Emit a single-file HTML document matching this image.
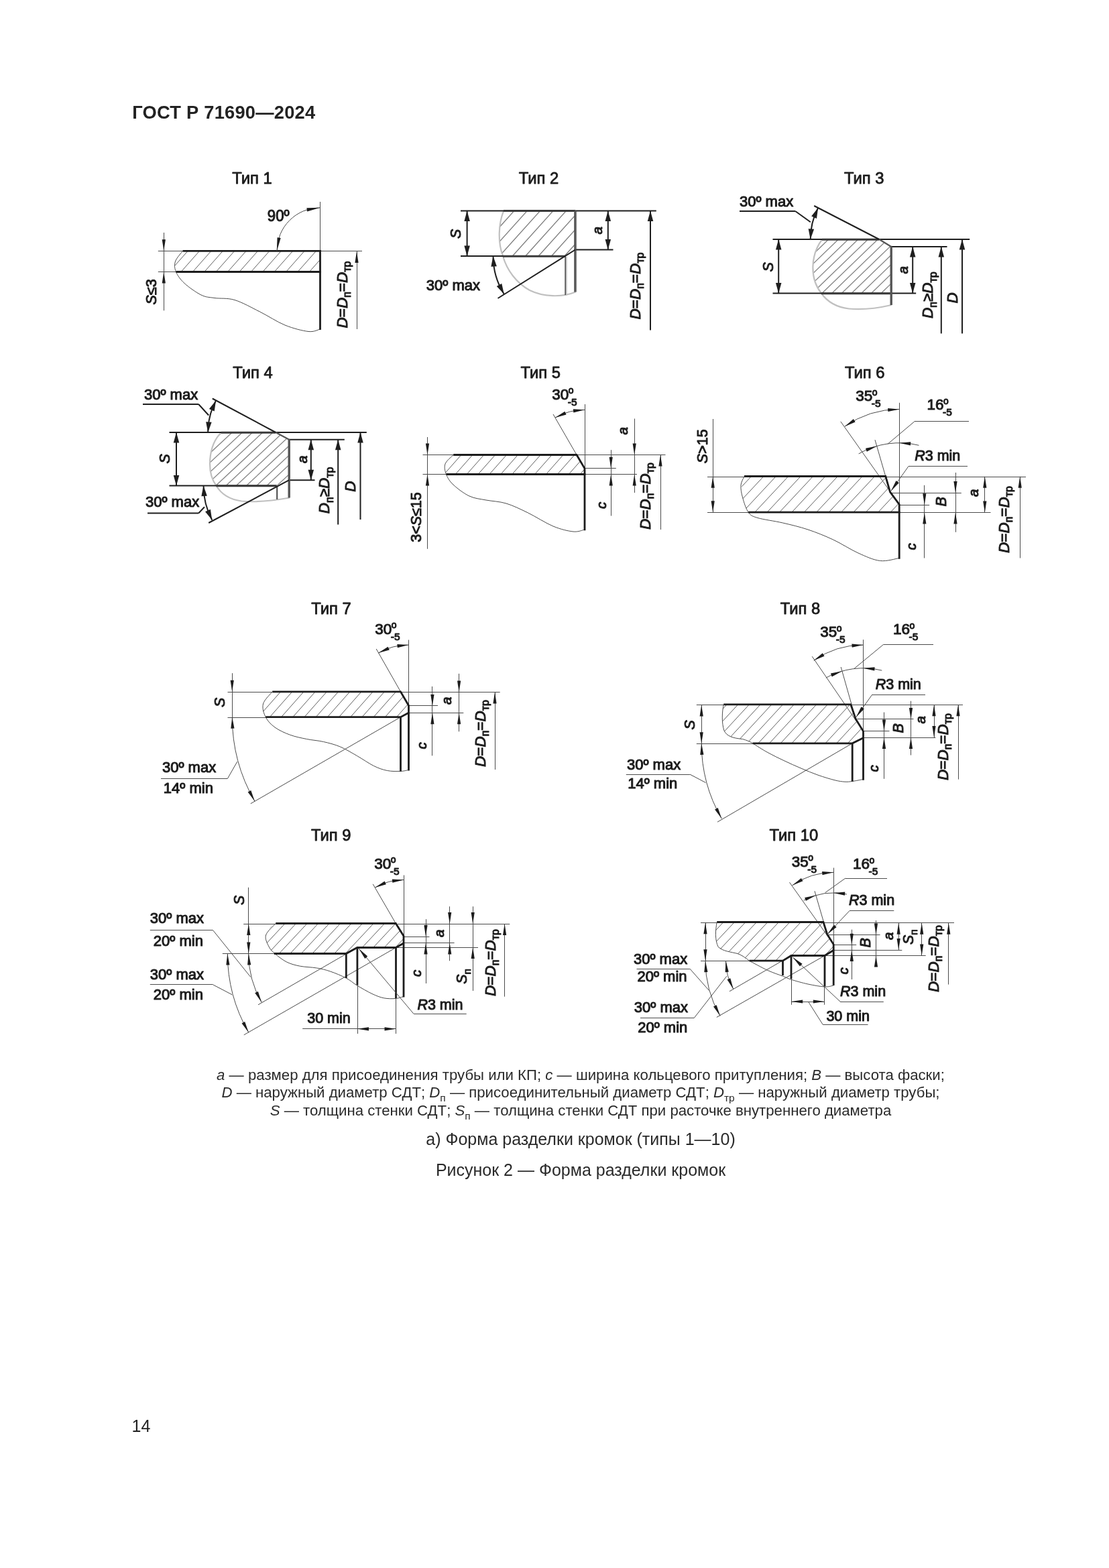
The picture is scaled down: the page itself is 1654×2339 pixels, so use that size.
<!DOCTYPE html>
<html lang="ru"><head><meta charset="utf-8"><title>ГОСТ Р 71690—2024</title>
<style>
html,body{margin:0;padding:0;background:#fff;}
body{width:1654px;height:2339px;overflow:hidden;position:relative;font-family:"Liberation Sans",sans-serif;}
svg{position:absolute;left:0;top:0;display:block;will-change:transform;transform:translateZ(0);}
svg text{font-family:"Liberation Sans",sans-serif;white-space:pre;}
</style></head>
<body>
<svg width="1654" height="2339" viewBox="0 0 1654 2339">
<text x="197.2" y="177" font-size="27.3" text-anchor="start" fill="#222" font-weight="bold" textLength="273" lengthAdjust="spacing" >ГОСТ Р 71690—2024</text>
<text x="196.6" y="2136" font-size="25" text-anchor="start" fill="#222" >14</text>
<text x="866" y="1610.6" font-size="22.2" text-anchor="middle" fill="#2a2a2a" ><tspan font-style="italic">a</tspan> — размер для присоединения трубы или КП; <tspan font-style="italic">c</tspan> — ширина кольцевого притупления; <tspan font-style="italic">B</tspan> — высота фаски;</text>
<text x="866" y="1636.6" font-size="22.2" text-anchor="middle" fill="#2a2a2a" ><tspan font-style="italic">D</tspan> — наружный диаметр СДТ; <tspan font-style="italic">D</tspan><tspan font-size="15.5" dy="6.5">п</tspan><tspan dy="-6.5">​</tspan> — присоединительный диаметр СДТ; <tspan font-style="italic">D</tspan><tspan font-size="15.5" dy="6.5">тр</tspan><tspan dy="-6.5">​</tspan> — наружный диаметр трубы;</text>
<text x="866" y="1663.5" font-size="22.2" text-anchor="middle" fill="#2a2a2a" ><tspan font-style="italic">S</tspan> — толщина стенки СДТ; <tspan font-style="italic">S</tspan><tspan font-size="15.5" dy="6.5">п</tspan><tspan dy="-6.5">​</tspan> — толщина стенки СДТ при расточке внутреннего диаметра</text>
<text x="866" y="1708" font-size="25" text-anchor="middle" fill="#2a2a2a" >а) Форма разделки кромок (типы 1—10)</text>
<text x="866" y="1754.2" font-size="25" text-anchor="middle" fill="#2a2a2a" >Рисунок 2 — Форма разделки кромок</text>
<text x="376" y="274.3" font-size="23.8" text-anchor="middle" fill="#1c1c1c" stroke="#1c1c1c" stroke-width="0.85" stroke-linejoin="round" >Тип 1</text>
<clipPath id="c1"><path d="M272.5 374.3 C262 380 259 392 262.5 405.5 L478 405.5 L478 374.3 Z"/></clipPath>
<path d="M217.8 405.5L245.4 374.3M235.2 405.5L262.8 374.3M252.6 405.5L280.2 374.3M270 405.5L297.6 374.3M287.4 405.5L315 374.3M304.8 405.5L332.4 374.3M322.2 405.5L349.8 374.3M339.6 405.5L367.2 374.3M357 405.5L384.6 374.3M374.4 405.5L402 374.3M391.8 405.5L419.4 374.3M409.2 405.5L436.8 374.3M426.6 405.5L454.2 374.3M444 405.5L471.6 374.3M461.4 405.5L489 374.3M478.8 405.5L506.4 374.3" fill="none" stroke="#4c4c4c" stroke-width="0.9" clip-path="url(#c1)"/>
<path d="M272.5 374.3 C270.67 376.92 263.17 384.8 261.5 390 C259.83 395.2 260.25 400.08 262.5 405.5 C264.75 410.92 268.75 416.75 275 422.5 C281.25 428.25 292.5 436.33 300 440 C307.5 443.67 311.67 443.25 320 444.5 C328.33 445.75 338.75 444.08 350 447.5 C361.25 450.92 375 458.75 387.5 465 C400 471.25 412.92 480.08 425 485 C437.08 489.92 451.25 493.5 460 494.5 C468.75 495.5 474.58 491.58 477.5 491" fill="none" stroke="#4c4c4c" stroke-width="1"/>
<line x1="477.5" y1="301" x2="477.5" y2="374" stroke="#4c4c4c" stroke-width="1" stroke-linecap="butt"/>
<line x1="235.8" y1="374.5" x2="272" y2="374.5" stroke="#4c4c4c" stroke-width="1" stroke-linecap="butt"/>
<line x1="235.8" y1="405.5" x2="263" y2="405.5" stroke="#4c4c4c" stroke-width="1" stroke-linecap="butt"/>
<line x1="478" y1="374.5" x2="540" y2="374.5" stroke="#4c4c4c" stroke-width="1" stroke-linecap="butt"/>
<line x1="272.5" y1="374.3" x2="478.8" y2="374.3" stroke="#1c1c1c" stroke-width="2.8" stroke-linecap="butt"/>
<line x1="262.5" y1="405.5" x2="478.8" y2="405.5" stroke="#1c1c1c" stroke-width="2.8" stroke-linecap="butt"/>
<line x1="477.5" y1="373" x2="477.5" y2="492" stroke="#1c1c1c" stroke-width="2.8" stroke-linecap="butt"/>
<line x1="244.5" y1="347" x2="244.5" y2="463.3" stroke="#4c4c4c" stroke-width="1" stroke-linecap="butt"/>
<polygon points="244.3,374.3 241.7,357.3 246.9,357.3" fill="#1c1c1c"/>
<polygon points="244.3,405.5 246.9,422.5 241.7,422.5" fill="#1c1c1c"/>
<line x1="532.5" y1="375" x2="532.5" y2="491" stroke="#4c4c4c" stroke-width="1" stroke-linecap="butt"/>
<polygon points="532,375 534.6,392 529.4,392" fill="#1c1c1c"/>
<path d="M413 374.3 A64.5 64.5 0 0 1 477.5 309.8" fill="none" stroke="#4c4c4c" stroke-width="1"/>
<polygon points="413,374.3 413.52,354.14 418.66,354.94" fill="#1c1c1c"/>
<polygon points="477.5,309.8 458.14,315.46 457.34,310.32" fill="#1c1c1c"/>
<text x="398.8" y="329.8" font-size="23.5" text-anchor="start" fill="#1c1c1c" stroke="#1c1c1c" stroke-width="1.05" stroke-linejoin="round" textLength="32.8" lengthAdjust="spacingAndGlyphs">90º</text>
<text x="232.5" y="454.5" font-size="21.5" text-anchor="start" fill="#1c1c1c" stroke="#1c1c1c" stroke-width="1.05" stroke-linejoin="round" transform="rotate(-90 232.5 454.5)" ><tspan font-style="italic">S</tspan>≤3</text>
<text x="517.7" y="489.5" font-size="22.5" text-anchor="start" fill="#1c1c1c" stroke="#1c1c1c" stroke-width="1.05" stroke-linejoin="round" transform="rotate(-90 517.7 489.5)" ><tspan font-style="italic">D</tspan>=<tspan font-style="italic">D</tspan><tspan font-size="15.97" dy="5.4">п</tspan><tspan dy="-5.4">​</tspan>=<tspan font-style="italic">D</tspan><tspan font-size="15.97" dy="5.4">тр</tspan><tspan dy="-5.4">​</tspan></text>
<text x="803.5" y="274.3" font-size="23.8" text-anchor="middle" fill="#1c1c1c" stroke="#1c1c1c" stroke-width="0.85" stroke-linejoin="round" >Тип 2</text>
<clipPath id="c2"><path d="M751.2 314.4 C743 335 742.5 362 750 382 L842.5 382 L858 372.5 L858 314.4 Z"/></clipPath>
<path d="M667.3 382L728.17 314.4M686.7 382L747.57 314.4M706.1 382L766.97 314.4M725.5 382L786.37 314.4M744.9 382L805.77 314.4M764.3 382L825.17 314.4M783.7 382L844.57 314.4M803.1 382L863.97 314.4M822.5 382L883.37 314.4M841.9 382L902.77 314.4M861.3 382L922.17 314.4" fill="none" stroke="#808080" stroke-width="1.4" clip-path="url(#c2)"/>
<path d="M751.2 314.4 C743 335 742.5 362 750 382 C756 403 770 422 790 433 C810 443 838 444 858.5 435.5" fill="none" stroke="#c0c0c0" stroke-width="2.2"/>
<line x1="859.6" y1="315" x2="859.6" y2="435.5" stroke="#c0c0c0" stroke-width="1.6" stroke-linecap="butt"/>
<line x1="845" y1="383" x2="845" y2="440" stroke="#c0c0c0" stroke-width="1.4" stroke-linecap="butt"/>
<line x1="687" y1="314.4" x2="978.8" y2="314.4" stroke="#1e1e1e" stroke-width="2" stroke-linecap="butt"/>
<line x1="687" y1="382" x2="843" y2="382" stroke="#1e1e1e" stroke-width="2" stroke-linecap="butt"/>
<line x1="858" y1="372.5" x2="914.5" y2="372.5" stroke="#1e1e1e" stroke-width="2" stroke-linecap="butt"/>
<line x1="751" y1="314.6" x2="858" y2="314.6" stroke="#3a3a3a" stroke-width="3" stroke-linecap="butt"/>
<line x1="750" y1="382.2" x2="843" y2="382.2" stroke="#3a3a3a" stroke-width="3" stroke-linecap="butt"/>
<line x1="857.8" y1="314.4" x2="857.8" y2="435.6" stroke="#555" stroke-width="3.2" stroke-linecap="butt"/>
<line x1="843.2" y1="382" x2="843.2" y2="440" stroke="#555" stroke-width="1.8" stroke-linecap="butt"/>
<line x1="858" y1="372.5" x2="742.5" y2="445" stroke="#1e1e1e" stroke-width="2" stroke-linecap="butt"/>
<line x1="696.6" y1="314.4" x2="696.6" y2="382" stroke="#1e1e1e" stroke-width="2" stroke-linecap="butt"/>
<polygon points="696.6,314.4 700.85,329.9 692.35,329.9" fill="#1e1e1e"/>
<polygon points="696.6,382 692.35,366.5 700.85,366.5" fill="#1e1e1e"/>
<line x1="906.8" y1="314.4" x2="906.8" y2="372.5" stroke="#1e1e1e" stroke-width="2" stroke-linecap="butt"/>
<polygon points="906.8,314.4 911.05,329.9 902.55,329.9" fill="#1e1e1e"/>
<polygon points="906.8,372.5 902.55,357 911.05,357" fill="#1e1e1e"/>
<line x1="970" y1="314.4" x2="970" y2="492.5" stroke="#1e1e1e" stroke-width="2" stroke-linecap="butt"/>
<polygon points="970,314.4 974.25,329.9 965.75,329.9" fill="#1e1e1e"/>
<path d="M735.5 382 A107 107 0 0 0 751.76 438.7" fill="none" stroke="#1e1e1e" stroke-width="2"/>
<polygon points="735.5,382 740.86,397.15 732.38,397.77" fill="#1e1e1e"/>
<polygon points="751.76,438.7 740.76,426.98 748.28,423.01" fill="#1e1e1e"/>
<text x="687" y="356" font-size="21.5" text-anchor="start" fill="#1c1c1c" stroke="#1c1c1c" stroke-width="1.05" stroke-linejoin="round" transform="rotate(-90 687 356)" ><tspan font-style="italic">S</tspan></text>
<text x="897.5" y="349.5" font-size="20.5" text-anchor="start" fill="#1c1c1c" stroke="#1c1c1c" stroke-width="1.05" stroke-linejoin="round" transform="rotate(-90 897.5 349.5)" ><tspan font-style="italic">a</tspan></text>
<text x="635.8" y="432.5" font-size="22" text-anchor="start" fill="#1c1c1c" stroke="#1c1c1c" stroke-width="1.05" stroke-linejoin="round" >30º max</text>
<text x="955" y="476.5" font-size="22.5" text-anchor="start" fill="#1c1c1c" stroke="#1c1c1c" stroke-width="1.05" stroke-linejoin="round" transform="rotate(-90 955 476.5)" ><tspan font-style="italic">D</tspan>=<tspan font-style="italic">D</tspan><tspan font-size="15.97" dy="5.4">п</tspan><tspan dy="-5.4">​</tspan>=<tspan font-style="italic">D</tspan><tspan font-size="15.97" dy="5.4">тр</tspan><tspan dy="-5.4">​</tspan></text>
<text x="1288.8" y="274.3" font-size="23.8" text-anchor="middle" fill="#1c1c1c" stroke="#1c1c1c" stroke-width="0.85" stroke-linejoin="round" >Тип 3</text>
<clipPath id="c3"><path d="M1226.2 357 C1209 380 1207 415 1225 437.5 L1329 437.5 L1329 368 L1311.2 357 Z"/></clipPath>
<path d="M1123 437.5L1206.36 357M1137.7 437.5L1221.06 357M1152.4 437.5L1235.76 357M1167.1 437.5L1250.46 357M1181.8 437.5L1265.16 357M1196.5 437.5L1279.86 357M1211.2 437.5L1294.56 357M1225.9 437.5L1309.26 357M1240.6 437.5L1323.96 357M1255.3 437.5L1338.66 357M1270 437.5L1353.36 357M1284.7 437.5L1368.06 357M1299.4 437.5L1382.76 357M1314.1 437.5L1397.46 357M1328.8 437.5L1412.16 357M1343.5 437.5L1426.86 357" fill="none" stroke="#858585" stroke-width="1.3" clip-path="url(#c3)"/>
<path d="M1226.2 357 C1209 380 1207 415 1225 437.5 C1233 449 1246 458 1266 460.5 C1290 463 1312 459 1329.5 455" fill="none" stroke="#c0c0c0" stroke-width="2.2"/>
<line x1="1152.5" y1="357" x2="1446.2" y2="357" stroke="#1e1e1e" stroke-width="2" stroke-linecap="butt"/>
<line x1="1152.5" y1="437.5" x2="1366.2" y2="437.5" stroke="#1e1e1e" stroke-width="2" stroke-linecap="butt"/>
<line x1="1329" y1="368" x2="1412.5" y2="368" stroke="#1e1e1e" stroke-width="2" stroke-linecap="butt"/>
<line x1="1226" y1="357.3" x2="1311.2" y2="357.3" stroke="#3a3a3a" stroke-width="3" stroke-linecap="butt"/>
<line x1="1225" y1="437.7" x2="1329" y2="437.7" stroke="#3a3a3a" stroke-width="3" stroke-linecap="butt"/>
<line x1="1329.2" y1="368" x2="1329.2" y2="455" stroke="#555" stroke-width="3.4" stroke-linecap="butt"/>
<path d="M1311.2 357 L1329.2 368" fill="none" stroke="#555" stroke-width="2.2"/>
<line x1="1311.2" y1="357" x2="1214.2" y2="307" stroke="#1e1e1e" stroke-width="2" stroke-linecap="butt"/>
<line x1="1103" y1="315" x2="1186.2" y2="315" stroke="#1e1e1e" stroke-width="2" stroke-linecap="butt"/>
<line x1="1186.2" y1="315" x2="1208.8" y2="331.2" stroke="#1e1e1e" stroke-width="2" stroke-linecap="butt"/>
<path d="M1208.7 357 A102.5 102.5 0 0 1 1220.12 309.99" fill="none" stroke="#1e1e1e" stroke-width="2"/>
<polygon points="1208.7,357 1205.63,341.22 1214.11,341.87" fill="#1e1e1e"/>
<polygon points="1220.12,309.99 1217.98,325.92 1210.16,322.6" fill="#1e1e1e"/>
<line x1="1161.2" y1="357" x2="1161.2" y2="437.5" stroke="#1e1e1e" stroke-width="2" stroke-linecap="butt"/>
<polygon points="1161.2,357 1165.45,372.5 1156.95,372.5" fill="#1e1e1e"/>
<polygon points="1161.2,437.5 1156.95,422 1165.45,422" fill="#1e1e1e"/>
<line x1="1361.2" y1="368" x2="1361.2" y2="437.5" stroke="#1e1e1e" stroke-width="2" stroke-linecap="butt"/>
<polygon points="1361.2,368 1365.45,383.5 1356.95,383.5" fill="#1e1e1e"/>
<polygon points="1361.2,437.5 1356.95,422 1365.45,422" fill="#1e1e1e"/>
<line x1="1403.8" y1="368" x2="1403.8" y2="497.5" stroke="#1e1e1e" stroke-width="2" stroke-linecap="butt"/>
<polygon points="1403.8,368 1408.05,383.5 1399.55,383.5" fill="#1e1e1e"/>
<line x1="1435" y1="357" x2="1435" y2="497.5" stroke="#1e1e1e" stroke-width="2" stroke-linecap="butt"/>
<polygon points="1435,357 1439.25,372.5 1430.75,372.5" fill="#1e1e1e"/>
<text x="1152.5" y="405.5" font-size="21.5" text-anchor="start" fill="#1c1c1c" stroke="#1c1c1c" stroke-width="1.05" stroke-linejoin="round" transform="rotate(-90 1152.5 405.5)" ><tspan font-style="italic">S</tspan></text>
<text x="1353.8" y="408.5" font-size="20.5" text-anchor="start" fill="#1c1c1c" stroke="#1c1c1c" stroke-width="1.05" stroke-linejoin="round" transform="rotate(-90 1353.8 408.5)" ><tspan font-style="italic">a</tspan></text>
<text x="1103" y="308" font-size="22" text-anchor="start" fill="#1c1c1c" stroke="#1c1c1c" stroke-width="1.05" stroke-linejoin="round" >30º max</text>
<text x="1391.2" y="475" font-size="22.5" text-anchor="start" fill="#1c1c1c" stroke="#1c1c1c" stroke-width="1.05" stroke-linejoin="round" transform="rotate(-90 1391.2 475)" ><tspan font-style="italic">D</tspan><tspan font-size="15.97" dy="5.4">п</tspan><tspan dy="-5.4">​</tspan>≥<tspan font-style="italic">D</tspan><tspan font-size="15.97" dy="5.4">тр</tspan><tspan dy="-5.4">​</tspan></text>
<text x="1428" y="452.5" font-size="22.5" text-anchor="start" fill="#1c1c1c" stroke="#1c1c1c" stroke-width="1.05" stroke-linejoin="round" transform="rotate(-90 1428 452.5)" ><tspan font-style="italic">D</tspan></text>
<text x="376.9" y="564.3" font-size="23.8" text-anchor="middle" fill="#1c1c1c" stroke="#1c1c1c" stroke-width="0.85" stroke-linejoin="round" >Тип 4</text>
<clipPath id="c4"><path d="M330 645 C310 665 308 705 322.5 724.5 L412.5 724.5 L431.2 716.2 L431.2 655.8 L411.2 645 Z"/></clipPath>
<path d="M215.4 724.5L300.65 645M230.6 724.5L315.85 645M245.8 724.5L331.05 645M261 724.5L346.25 645M276.2 724.5L361.45 645M291.4 724.5L376.65 645M306.6 724.5L391.85 645M321.8 724.5L407.05 645M337 724.5L422.25 645M352.2 724.5L437.45 645M367.4 724.5L452.65 645M382.6 724.5L467.85 645M397.8 724.5L483.05 645M413 724.5L498.25 645M428.2 724.5L513.45 645M443.4 724.5L528.65 645" fill="none" stroke="#858585" stroke-width="1.3" clip-path="url(#c4)"/>
<path d="M330 645 C310 665 308 705 322.5 724.5 C330 737 342 745 360 747.5 C385 750 412 746 432 742.5" fill="none" stroke="#c0c0c0" stroke-width="2.2"/>
<line x1="252.5" y1="645" x2="546.8" y2="645" stroke="#1e1e1e" stroke-width="2" stroke-linecap="butt"/>
<line x1="252.5" y1="724.5" x2="412.5" y2="724.5" stroke="#1e1e1e" stroke-width="2" stroke-linecap="butt"/>
<line x1="431.2" y1="655.8" x2="513.8" y2="655.8" stroke="#1e1e1e" stroke-width="2" stroke-linecap="butt"/>
<line x1="431.2" y1="716.2" x2="469.5" y2="716.2" stroke="#1e1e1e" stroke-width="2" stroke-linecap="butt"/>
<line x1="330" y1="645.3" x2="411.2" y2="645.3" stroke="#3a3a3a" stroke-width="3" stroke-linecap="butt"/>
<line x1="322.5" y1="724.7" x2="412.5" y2="724.7" stroke="#3a3a3a" stroke-width="3" stroke-linecap="butt"/>
<line x1="431.2" y1="655.8" x2="431.2" y2="742.5" stroke="#555" stroke-width="3.4" stroke-linecap="butt"/>
<line x1="413.2" y1="724.5" x2="413.2" y2="745" stroke="#555" stroke-width="2.2" stroke-linecap="butt"/>
<path d="M411.2 645 L431.2 655.8" fill="none" stroke="#555" stroke-width="2.2"/>
<line x1="411.2" y1="645" x2="316.8" y2="594.5" stroke="#1e1e1e" stroke-width="2" stroke-linecap="butt"/>
<line x1="431.2" y1="716.2" x2="311.2" y2="780" stroke="#1e1e1e" stroke-width="2" stroke-linecap="butt"/>
<line x1="213" y1="603" x2="296.2" y2="603" stroke="#1e1e1e" stroke-width="2" stroke-linecap="butt"/>
<line x1="296.2" y1="603" x2="311.2" y2="619.5" stroke="#1e1e1e" stroke-width="2" stroke-linecap="butt"/>
<line x1="220" y1="765.5" x2="296.2" y2="765.5" stroke="#1e1e1e" stroke-width="2" stroke-linecap="butt"/>
<line x1="296.2" y1="765.5" x2="305" y2="756.2" stroke="#1e1e1e" stroke-width="2" stroke-linecap="butt"/>
<path d="M310.2 645 A101 101 0 0 1 322.02 597.58" fill="none" stroke="#1e1e1e" stroke-width="2"/>
<polygon points="310.2,645 307.15,629.22 315.63,629.87" fill="#1e1e1e"/>
<polygon points="322.02,597.58 319.71,613.49 311.92,610.08" fill="#1e1e1e"/>
<path d="M303.5 724.5 A109 109 0 0 0 316.26 775.67" fill="none" stroke="#1e1e1e" stroke-width="2"/>
<polygon points="303.5,724.5 308.84,739.66 300.36,740.26" fill="#1e1e1e"/>
<polygon points="316.26,775.67 306.09,763.23 313.86,759.78" fill="#1e1e1e"/>
<line x1="263" y1="645" x2="263" y2="724.5" stroke="#1e1e1e" stroke-width="2" stroke-linecap="butt"/>
<polygon points="263,645 267.25,660.5 258.75,660.5" fill="#1e1e1e"/>
<polygon points="263,724.5 258.75,709 267.25,709" fill="#1e1e1e"/>
<line x1="463.8" y1="655.8" x2="463.8" y2="716.2" stroke="#1e1e1e" stroke-width="2" stroke-linecap="butt"/>
<polygon points="463.8,655.8 468.05,671.3 459.55,671.3" fill="#1e1e1e"/>
<polygon points="463.8,716.2 459.55,700.7 468.05,700.7" fill="#1e1e1e"/>
<line x1="504.2" y1="655.8" x2="504.2" y2="782.5" stroke="#1e1e1e" stroke-width="2" stroke-linecap="butt"/>
<polygon points="504.2,655.8 508.45,671.3 499.95,671.3" fill="#1e1e1e"/>
<line x1="537.5" y1="645" x2="537.5" y2="775" stroke="#1e1e1e" stroke-width="2" stroke-linecap="butt"/>
<polygon points="537.5,645 541.75,660.5 533.25,660.5" fill="#1e1e1e"/>
<text x="252.5" y="691.5" font-size="21.5" text-anchor="start" fill="#1c1c1c" stroke="#1c1c1c" stroke-width="1.05" stroke-linejoin="round" transform="rotate(-90 252.5 691.5)" ><tspan font-style="italic">S</tspan></text>
<text x="457.5" y="691" font-size="20.5" text-anchor="start" fill="#1c1c1c" stroke="#1c1c1c" stroke-width="1.05" stroke-linejoin="round" transform="rotate(-90 457.5 691)" ><tspan font-style="italic">a</tspan></text>
<text x="215" y="596.2" font-size="22" text-anchor="start" fill="#1c1c1c" stroke="#1c1c1c" stroke-width="1.05" stroke-linejoin="round" >30º max</text>
<text x="217" y="756.2" font-size="22" text-anchor="start" fill="#1c1c1c" stroke="#1c1c1c" stroke-width="1.05" stroke-linejoin="round" >30º max</text>
<text x="491.2" y="766.2" font-size="22.5" text-anchor="start" fill="#1c1c1c" stroke="#1c1c1c" stroke-width="1.05" stroke-linejoin="round" transform="rotate(-90 491.2 766.2)" ><tspan font-style="italic">D</tspan><tspan font-size="15.97" dy="5.4">п</tspan><tspan dy="-5.4">​</tspan>≥<tspan font-style="italic">D</tspan><tspan font-size="15.97" dy="5.4">тр</tspan><tspan dy="-5.4">​</tspan></text>
<text x="530.5" y="733.8" font-size="22.5" text-anchor="start" fill="#1c1c1c" stroke="#1c1c1c" stroke-width="1.05" stroke-linejoin="round" transform="rotate(-90 530.5 733.8)" ><tspan font-style="italic">D</tspan></text>
<text x="806.3" y="564.3" font-size="23.8" text-anchor="middle" fill="#1c1c1c" stroke="#1c1c1c" stroke-width="0.85" stroke-linejoin="round" >Тип 5</text>
<clipPath id="c5"><path d="M676.2 678.5 C662 685 660 698 665.5 707.5 L872 707.5 L872 698.8 L860 678.5 Z"/></clipPath>
<path d="M628.5 707.5L654.16 678.5M645.4 707.5L671.06 678.5M662.3 707.5L687.96 678.5M679.2 707.5L704.86 678.5M696.1 707.5L721.76 678.5M713 707.5L738.66 678.5M729.9 707.5L755.56 678.5M746.8 707.5L772.46 678.5M763.7 707.5L789.36 678.5M780.6 707.5L806.26 678.5M797.5 707.5L823.16 678.5M814.4 707.5L840.06 678.5M831.3 707.5L856.96 678.5M848.2 707.5L873.86 678.5M865.1 707.5L890.76 678.5M882 707.5L907.66 678.5" fill="none" stroke="#4c4c4c" stroke-width="0.9" clip-path="url(#c5)"/>
<path d="M676.2 678.5 C674.17 680.75 665.78 687.17 664 692 C662.22 696.83 663.5 702.33 665.5 707.5 C667.5 712.67 670.25 717.58 676 723 C681.75 728.42 691.83 736.17 700 740 C708.17 743.83 715.83 744.17 725 746 C734.17 747.83 744.58 747.83 755 751 C765.42 754.17 775.83 759.33 787.5 765 C799.17 770.67 813.75 780.33 825 785 C836.25 789.67 847.17 792.17 855 793 C862.83 793.83 869.17 790.5 872 790" fill="none" stroke="#4c4c4c" stroke-width="1"/>
<line x1="872.5" y1="603" x2="872.5" y2="699" stroke="#4c4c4c" stroke-width="1" stroke-linecap="butt"/>
<line x1="860" y1="678.5" x2="825" y2="617.9" stroke="#4c4c4c" stroke-width="1" stroke-linecap="butt"/>
<line x1="630.5" y1="678.5" x2="676" y2="678.5" stroke="#4c4c4c" stroke-width="1" stroke-linecap="butt"/>
<line x1="630.5" y1="707.5" x2="665.5" y2="707.5" stroke="#4c4c4c" stroke-width="1" stroke-linecap="butt"/>
<line x1="860" y1="678.5" x2="992.5" y2="678.5" stroke="#4c4c4c" stroke-width="1" stroke-linecap="butt"/>
<line x1="872" y1="698.5" x2="918.8" y2="698.5" stroke="#4c4c4c" stroke-width="1" stroke-linecap="butt"/>
<line x1="872" y1="707.5" x2="950" y2="707.5" stroke="#4c4c4c" stroke-width="1" stroke-linecap="butt"/>
<path d="M676.2 678.5 L860 678.5 L872 698.8 L872 791.2" fill="none" stroke="#1c1c1c" stroke-width="2.8" stroke-linejoin="miter"/>
<line x1="665.5" y1="707.5" x2="873.3" y2="707.5" stroke="#1c1c1c" stroke-width="2.8" stroke-linecap="butt"/>
<line x1="637.5" y1="652" x2="637.5" y2="818.8" stroke="#4c4c4c" stroke-width="1" stroke-linecap="butt"/>
<polygon points="637.5,678.5 634.9,661.5 640.1,661.5" fill="#1c1c1c"/>
<polygon points="637.5,707.5 640.1,724.5 634.9,724.5" fill="#1c1c1c"/>
<line x1="911.5" y1="671.2" x2="911.5" y2="769.5" stroke="#4c4c4c" stroke-width="1" stroke-linecap="butt"/>
<polygon points="911.2,698.8 908.6,681.8 913.8,681.8" fill="#1c1c1c"/>
<polygon points="911.2,707.5 913.8,724.5 908.6,724.5" fill="#1c1c1c"/>
<line x1="946.5" y1="624.5" x2="946.5" y2="735" stroke="#4c4c4c" stroke-width="1" stroke-linecap="butt"/>
<polygon points="946.2,678.5 943.6,661.5 948.8,661.5" fill="#1c1c1c"/>
<polygon points="946.2,707.5 948.8,724.5 943.6,724.5" fill="#1c1c1c"/>
<line x1="985.5" y1="678.5" x2="985.5" y2="790" stroke="#4c4c4c" stroke-width="1" stroke-linecap="butt"/>
<polygon points="985,678.5 987.6,695.5 982.4,695.5" fill="#1c1c1c"/>
<path d="M872 611.3 A88 88 0 0 0 828 623.09" fill="none" stroke="#4c4c4c" stroke-width="1"/>
<polygon points="872,611.3 855.33,615.53 854.83,610.35" fill="#1c1c1c"/>
<polygon points="828,623.09 842.4,613.68 844.55,618.42" fill="#1c1c1c"/>
<text x="823.2" y="595.5" font-size="22.5" text-anchor="start" fill="#1c1c1c" stroke="#1c1c1c" stroke-width="1.05" stroke-linejoin="round" >30</text>
<text x="847.72" y="587.4" font-size="13.95" text-anchor="start" fill="#1c1c1c" stroke="#1c1c1c" stroke-width="1.05" stroke-linejoin="round" >o</text>
<text x="846.72" y="604.5" font-size="15.5" text-anchor="start" fill="#1c1c1c" stroke="#1c1c1c" stroke-width="1.05" stroke-linejoin="round" >-5</text>
<text x="628.2" y="808.8" font-size="21.5" text-anchor="start" fill="#1c1c1c" stroke="#1c1c1c" stroke-width="1.05" stroke-linejoin="round" transform="rotate(-90 628.2 808.8)" >3&lt;<tspan font-style="italic">S</tspan>≤15</text>
<text x="935.5" y="648.5" font-size="20.5" text-anchor="start" fill="#1c1c1c" stroke="#1c1c1c" stroke-width="1.05" stroke-linejoin="round" transform="rotate(-90 935.5 648.5)" ><tspan font-style="italic">a</tspan></text>
<text x="904.2" y="759" font-size="20.5" text-anchor="start" fill="#1c1c1c" stroke="#1c1c1c" stroke-width="1.05" stroke-linejoin="round" transform="rotate(-90 904.2 759)" ><tspan font-style="italic">c</tspan></text>
<text x="970" y="790" font-size="22.5" text-anchor="start" fill="#1c1c1c" stroke="#1c1c1c" stroke-width="1.05" stroke-linejoin="round" transform="rotate(-90 970 790)" ><tspan font-style="italic">D</tspan>=<tspan font-style="italic">D</tspan><tspan font-size="15.97" dy="5.4">п</tspan><tspan dy="-5.4">​</tspan>=<tspan font-style="italic">D</tspan><tspan font-size="15.97" dy="5.4">тр</tspan><tspan dy="-5.4">​</tspan></text>
<text x="1289.8" y="564.3" font-size="23.8" text-anchor="middle" fill="#1c1c1c" stroke="#1c1c1c" stroke-width="0.85" stroke-linejoin="round" >Тип 6</text>
<clipPath id="c6"><path d="M1110 710.5 C1103 725 1106 748 1116.2 764.2 L1341.2 764.2 L1341.2 752.5 L1327.5 733.8 L1320.8 710.5 Z"/></clipPath>
<path d="M1052.1 764.2L1102.18 710.5M1070.5 764.2L1120.58 710.5M1088.9 764.2L1138.98 710.5M1107.3 764.2L1157.38 710.5M1125.7 764.2L1175.78 710.5M1144.1 764.2L1194.18 710.5M1162.5 764.2L1212.58 710.5M1180.9 764.2L1230.98 710.5M1199.3 764.2L1249.38 710.5M1217.7 764.2L1267.78 710.5M1236.1 764.2L1286.18 710.5M1254.5 764.2L1304.58 710.5M1272.9 764.2L1322.98 710.5M1291.3 764.2L1341.38 710.5M1309.7 764.2L1359.78 710.5M1328.1 764.2L1378.18 710.5M1346.5 764.2L1396.58 710.5" fill="none" stroke="#4c4c4c" stroke-width="0.9" clip-path="url(#c6)"/>
<path d="M1110 710.5 C1109.17 712.75 1105.42 718.75 1105 724 C1104.58 729.25 1105.63 735.3 1107.5 742 C1109.37 748.7 1112.45 759.12 1116.2 764.2 C1119.95 769.28 1121.45 769.87 1130 772.5 C1138.55 775.13 1155 777.08 1167.5 780 C1180 782.92 1192.5 785.83 1205 790 C1217.5 794.17 1230 799.17 1242.5 805 C1255 810.83 1268.33 819.75 1280 825 C1291.67 830.25 1302.3 835.25 1312.5 836.5 C1322.7 837.75 1336.42 833.17 1341.2 832.5" fill="none" stroke="#4c4c4c" stroke-width="1"/>
<line x1="1341.5" y1="600.8" x2="1341.5" y2="753" stroke="#4c4c4c" stroke-width="1" stroke-linecap="butt"/>
<line x1="1341.2" y1="752.5" x2="1253.8" y2="628.8" stroke="#4c4c4c" stroke-width="1" stroke-linecap="butt"/>
<line x1="1327.5" y1="733.8" x2="1305" y2="656.2" stroke="#4c4c4c" stroke-width="1" stroke-linecap="butt"/>
<line x1="1055" y1="711.5" x2="1110" y2="711.5" stroke="#4c4c4c" stroke-width="1" stroke-linecap="butt"/>
<line x1="1055" y1="764.5" x2="1116" y2="764.5" stroke="#4c4c4c" stroke-width="1" stroke-linecap="butt"/>
<line x1="1321" y1="711.5" x2="1530" y2="711.5" stroke="#4c4c4c" stroke-width="1" stroke-linecap="butt"/>
<line x1="1327.5" y1="735.5" x2="1433.8" y2="735.5" stroke="#4c4c4c" stroke-width="1" stroke-linecap="butt"/>
<line x1="1341.2" y1="753.5" x2="1386.2" y2="753.5" stroke="#4c4c4c" stroke-width="1" stroke-linecap="butt"/>
<line x1="1341.2" y1="764.5" x2="1477.5" y2="764.5" stroke="#4c4c4c" stroke-width="1" stroke-linecap="butt"/>
<path d="M1110 710.5 L1320.8 710.5 L1327.5 733.8 L1341.2 752.5 L1341.2 833.8" fill="none" stroke="#1c1c1c" stroke-width="2.8" stroke-linejoin="miter"/>
<line x1="1116.2" y1="764.2" x2="1342.5" y2="764.2" stroke="#1c1c1c" stroke-width="2.8" stroke-linecap="butt"/>
<line x1="1063.5" y1="625" x2="1063.5" y2="764.2" stroke="#4c4c4c" stroke-width="1" stroke-linecap="butt"/>
<polygon points="1063.2,710.8 1065.8,727.8 1060.6,727.8" fill="#1c1c1c"/>
<polygon points="1063.2,764.2 1060.6,747.2 1065.8,747.2" fill="#1c1c1c"/>
<line x1="1378.5" y1="723.8" x2="1378.5" y2="832.5" stroke="#4c4c4c" stroke-width="1" stroke-linecap="butt"/>
<polygon points="1378.8,753.2 1376.2,736.2 1381.4,736.2" fill="#1c1c1c"/>
<polygon points="1378.8,764.5 1381.4,781.5 1376.2,781.5" fill="#1c1c1c"/>
<line x1="1425.5" y1="705" x2="1425.5" y2="793.8" stroke="#4c4c4c" stroke-width="1" stroke-linecap="butt"/>
<polygon points="1425,735 1422.4,718 1427.6,718" fill="#1c1c1c"/>
<polygon points="1425,764.5 1427.6,781.5 1422.4,781.5" fill="#1c1c1c"/>
<line x1="1468.5" y1="710.8" x2="1468.5" y2="764.5" stroke="#4c4c4c" stroke-width="1" stroke-linecap="butt"/>
<polygon points="1468.8,710.8 1471.4,727.8 1466.2,727.8" fill="#1c1c1c"/>
<polygon points="1468.8,764.5 1466.2,747.5 1471.4,747.5" fill="#1c1c1c"/>
<line x1="1521.5" y1="710.8" x2="1521.5" y2="832.5" stroke="#4c4c4c" stroke-width="1" stroke-linecap="butt"/>
<polygon points="1521.2,710.8 1523.8,727.8 1518.6,727.8" fill="#1c1c1c"/>
<path d="M1341.2 610.5 A142 142 0 0 0 1259.75 636.18" fill="none" stroke="#4c4c4c" stroke-width="1"/>
<polygon points="1341.2,610.5 1324.39,614.11 1324.07,608.92" fill="#1c1c1c"/>
<polygon points="1259.75,636.18 1272.87,625.06 1275.6,629.5" fill="#1c1c1c"/>
<path d="M1280.7 676.91 A121 121 0 0 1 1370.47 664.29" fill="none" stroke="#4c4c4c" stroke-width="1"/>
<polygon points="1307.85,665.39 1292.76,673.64 1290.98,668.76" fill="#1c1c1c"/>
<polygon points="1341.2,660.7 1358.34,659.29 1357.98,664.48" fill="#1c1c1c"/>
<line x1="1363.8" y1="628.5" x2="1445" y2="628.5" stroke="#4c4c4c" stroke-width="1" stroke-linecap="butt"/>
<line x1="1363.8" y1="628.8" x2="1323.8" y2="662.5" stroke="#4c4c4c" stroke-width="1" stroke-linecap="butt"/>
<line x1="1355" y1="695.5" x2="1443" y2="695.5" stroke="#4c4c4c" stroke-width="1" stroke-linecap="butt"/>
<line x1="1355" y1="695.5" x2="1328.8" y2="732.5" stroke="#4c4c4c" stroke-width="1" stroke-linecap="butt"/>
<polygon points="1328.8,732.5 1336.5,717.12 1340.75,720.13" fill="#1c1c1c"/>
<text x="1276.2" y="598" font-size="22.5" text-anchor="start" fill="#1c1c1c" stroke="#1c1c1c" stroke-width="1.05" stroke-linejoin="round" >35</text>
<text x="1300.72" y="589.9" font-size="13.95" text-anchor="start" fill="#1c1c1c" stroke="#1c1c1c" stroke-width="1.05" stroke-linejoin="round" >o</text>
<text x="1299.72" y="607" font-size="15.5" text-anchor="start" fill="#1c1c1c" stroke="#1c1c1c" stroke-width="1.05" stroke-linejoin="round" >-5</text>
<text x="1382.5" y="610.8" font-size="22.5" text-anchor="start" fill="#1c1c1c" stroke="#1c1c1c" stroke-width="1.05" stroke-linejoin="round" >16</text>
<text x="1407.02" y="602.7" font-size="13.95" text-anchor="start" fill="#1c1c1c" stroke="#1c1c1c" stroke-width="1.05" stroke-linejoin="round" >o</text>
<text x="1406.02" y="619.8" font-size="15.5" text-anchor="start" fill="#1c1c1c" stroke="#1c1c1c" stroke-width="1.05" stroke-linejoin="round" >-5</text>
<text x="1364.2" y="687" font-size="21.5" text-anchor="start" fill="#1c1c1c" stroke="#1c1c1c" stroke-width="1.05" stroke-linejoin="round" ><tspan font-style="italic">R</tspan>3 min</text>
<text x="1055.5" y="691.2" font-size="21.5" text-anchor="start" fill="#1c1c1c" stroke="#1c1c1c" stroke-width="1.05" stroke-linejoin="round" transform="rotate(-90 1055.5 691.2)" ><tspan font-style="italic">S</tspan>&gt;15</text>
<text x="1411.2" y="755.5" font-size="21.5" text-anchor="start" fill="#1c1c1c" stroke="#1c1c1c" stroke-width="1.05" stroke-linejoin="round" transform="rotate(-90 1411.2 755.5)" ><tspan font-style="italic">B</tspan></text>
<text x="1458.8" y="741" font-size="20.5" text-anchor="start" fill="#1c1c1c" stroke="#1c1c1c" stroke-width="1.05" stroke-linejoin="round" transform="rotate(-90 1458.8 741)" ><tspan font-style="italic">a</tspan></text>
<text x="1366.2" y="820.5" font-size="20.5" text-anchor="start" fill="#1c1c1c" stroke="#1c1c1c" stroke-width="1.05" stroke-linejoin="round" transform="rotate(-90 1366.2 820.5)" ><tspan font-style="italic">c</tspan></text>
<text x="1505" y="825" font-size="22.5" text-anchor="start" fill="#1c1c1c" stroke="#1c1c1c" stroke-width="1.05" stroke-linejoin="round" transform="rotate(-90 1505 825)" ><tspan font-style="italic">D</tspan>=<tspan font-style="italic">D</tspan><tspan font-size="15.97" dy="5.4">п</tspan><tspan dy="-5.4">​</tspan>=<tspan font-style="italic">D</tspan><tspan font-size="15.97" dy="5.4">тр</tspan><tspan dy="-5.4">​</tspan></text>
<text x="494" y="915.5" font-size="23.8" text-anchor="middle" fill="#1c1c1c" stroke="#1c1c1c" stroke-width="0.85" stroke-linejoin="round" >Тип 7</text>
<clipPath id="c7"><path d="M406.2 1031.8 C391 1040 388 1058 396.2 1069.7 L597.5 1069.7 L609.5 1063.5 L609.5 1052.5 L597.5 1031.8 Z"/></clipPath>
<path d="M350.7 1069.7L384.23 1031.8M367.9 1069.7L401.43 1031.8M385.1 1069.7L418.63 1031.8M402.3 1069.7L435.83 1031.8M419.5 1069.7L453.03 1031.8M436.7 1069.7L470.23 1031.8M453.9 1069.7L487.43 1031.8M471.1 1069.7L504.63 1031.8M488.3 1069.7L521.83 1031.8M505.5 1069.7L539.03 1031.8M522.7 1069.7L556.23 1031.8M539.9 1069.7L573.43 1031.8M557.1 1069.7L590.63 1031.8M574.3 1069.7L607.83 1031.8M591.5 1069.7L625.03 1031.8M608.7 1069.7L642.23 1031.8M625.9 1069.7L659.43 1031.8" fill="none" stroke="#4c4c4c" stroke-width="0.9" clip-path="url(#c7)"/>
<path d="M406.2 1031.8 C403.92 1034.83 394.17 1043.68 392.5 1050 C390.83 1056.32 393.28 1063.87 396.2 1069.7 C399.12 1075.53 403.95 1080.58 410 1085 C416.05 1089.42 424.58 1093.28 432.5 1096.2 C440.42 1099.12 449.17 1100.78 457.5 1102.5 C465.83 1104.22 474.17 1104.58 482.5 1106.5 C490.83 1108.42 499.17 1110.5 507.5 1114 C515.83 1117.5 524.17 1122.75 532.5 1127.5 C540.83 1132.25 550 1138.83 557.5 1142.5 C565 1146.17 570.83 1148.17 577.5 1149.5 C584.17 1150.83 592.17 1150.67 597.5 1150.5 C602.83 1150.33 607.5 1148.83 609.5 1148.5" fill="none" stroke="#4c4c4c" stroke-width="1"/>
<line x1="609.5" y1="954.5" x2="609.5" y2="1053" stroke="#4c4c4c" stroke-width="1" stroke-linecap="butt"/>
<line x1="597.5" y1="1031.8" x2="561.2" y2="968" stroke="#4c4c4c" stroke-width="1" stroke-linecap="butt"/>
<line x1="339.5" y1="1032.5" x2="406" y2="1032.5" stroke="#4c4c4c" stroke-width="1" stroke-linecap="butt"/>
<line x1="339.5" y1="1070.5" x2="396" y2="1070.5" stroke="#4c4c4c" stroke-width="1" stroke-linecap="butt"/>
<line x1="599" y1="1032.5" x2="745.7" y2="1032.5" stroke="#4c4c4c" stroke-width="1" stroke-linecap="butt"/>
<line x1="609.5" y1="1052.5" x2="653" y2="1052.5" stroke="#4c4c4c" stroke-width="1" stroke-linecap="butt"/>
<line x1="609.5" y1="1063.5" x2="691.3" y2="1063.5" stroke="#4c4c4c" stroke-width="1" stroke-linecap="butt"/>
<line x1="597.5" y1="1069.7" x2="373.8" y2="1198.8" stroke="#4c4c4c" stroke-width="1" stroke-linecap="butt"/>
<path d="M406.2 1031.8 L597.5 1031.8 L609.5 1052.5 L609.5 1149.5" fill="none" stroke="#1c1c1c" stroke-width="2.8" stroke-linejoin="miter"/>
<path d="M396.2 1069.7 L597.5 1069.7 L609.5 1063.3" fill="none" stroke="#1c1c1c" stroke-width="2.8" stroke-linejoin="miter"/>
<line x1="597.5" y1="1069.7" x2="597.5" y2="1150.8" stroke="#1c1c1c" stroke-width="2.8" stroke-linecap="butt"/>
<line x1="346.5" y1="1004.2" x2="346.5" y2="1070" stroke="#4c4c4c" stroke-width="1" stroke-linecap="butt"/>
<polygon points="346.2,1031.8 343.6,1014.8 348.8,1014.8" fill="#1c1c1c"/>
<path d="M346.3 1069.7 A251.2 251.2 0 0 0 379.95 1195.3" fill="none" stroke="#4c4c4c" stroke-width="1"/>
<polygon points="346.3,1069.7 349.47,1086.6 344.28,1086.78" fill="#1c1c1c"/>
<polygon points="379.95,1195.3 369.66,1181.52 374.25,1179.08" fill="#1c1c1c"/>
<line x1="644.5" y1="1024" x2="644.5" y2="1127.3" stroke="#4c4c4c" stroke-width="1" stroke-linecap="butt"/>
<polygon points="644.9,1052.9 642.3,1035.9 647.5,1035.9" fill="#1c1c1c"/>
<polygon points="644.9,1063.3 647.5,1080.3 642.3,1080.3" fill="#1c1c1c"/>
<line x1="684.5" y1="1004.9" x2="684.5" y2="1091.3" stroke="#4c4c4c" stroke-width="1" stroke-linecap="butt"/>
<polygon points="684.6,1032.4 682,1015.4 687.2,1015.4" fill="#1c1c1c"/>
<polygon points="684.6,1063.3 687.2,1080.3 682,1080.3" fill="#1c1c1c"/>
<line x1="738.5" y1="1032.4" x2="738.5" y2="1148" stroke="#4c4c4c" stroke-width="1" stroke-linecap="butt"/>
<polygon points="738,1032.4 740.6,1049.4 735.4,1049.4" fill="#1c1c1c"/>
<path d="M609.5 962 A90.5 90.5 0 0 0 564.25 974.12" fill="none" stroke="#4c4c4c" stroke-width="1"/>
<polygon points="609.5,962 592.82,966.18 592.33,961.01" fill="#1c1c1c"/>
<polygon points="564.25,974.12 578.62,964.68 580.79,969.41" fill="#1c1c1c"/>
<line x1="240" y1="1161.5" x2="339.5" y2="1161.5" stroke="#4c4c4c" stroke-width="1" stroke-linecap="butt"/>
<line x1="339.5" y1="1161.2" x2="353.8" y2="1136.2" stroke="#4c4c4c" stroke-width="1" stroke-linecap="butt"/>
<text x="559.2" y="945.5" font-size="22.5" text-anchor="start" fill="#1c1c1c" stroke="#1c1c1c" stroke-width="1.05" stroke-linejoin="round" >30</text>
<text x="583.72" y="937.4" font-size="13.95" text-anchor="start" fill="#1c1c1c" stroke="#1c1c1c" stroke-width="1.05" stroke-linejoin="round" >o</text>
<text x="582.72" y="954.5" font-size="15.5" text-anchor="start" fill="#1c1c1c" stroke="#1c1c1c" stroke-width="1.05" stroke-linejoin="round" >-5</text>
<text x="242" y="1152" font-size="22" text-anchor="start" fill="#1c1c1c" stroke="#1c1c1c" stroke-width="1.05" stroke-linejoin="round" >30º max</text>
<text x="243.8" y="1182.5" font-size="22" text-anchor="start" fill="#1c1c1c" stroke="#1c1c1c" stroke-width="1.05" stroke-linejoin="round" >14º min</text>
<text x="335" y="1055" font-size="21.5" text-anchor="start" fill="#1c1c1c" stroke="#1c1c1c" stroke-width="1.05" stroke-linejoin="round" transform="rotate(-90 335 1055)" ><tspan font-style="italic">S</tspan></text>
<text x="672.9" y="1051" font-size="20.5" text-anchor="start" fill="#1c1c1c" stroke="#1c1c1c" stroke-width="1.05" stroke-linejoin="round" transform="rotate(-90 672.9 1051)" ><tspan font-style="italic">a</tspan></text>
<text x="636" y="1117.5" font-size="20.5" text-anchor="start" fill="#1c1c1c" stroke="#1c1c1c" stroke-width="1.05" stroke-linejoin="round" transform="rotate(-90 636 1117.5)" ><tspan font-style="italic">c</tspan></text>
<text x="724" y="1144" font-size="22.5" text-anchor="start" fill="#1c1c1c" stroke="#1c1c1c" stroke-width="1.05" stroke-linejoin="round" transform="rotate(-90 724 1144)" ><tspan font-style="italic">D</tspan>=<tspan font-style="italic">D</tspan><tspan font-size="15.97" dy="5.4">п</tspan><tspan dy="-5.4">​</tspan>=<tspan font-style="italic">D</tspan><tspan font-size="15.97" dy="5.4">тр</tspan><tspan dy="-5.4">​</tspan></text>
<text x="1193.4" y="915.5" font-size="23.8" text-anchor="middle" fill="#1c1c1c" stroke="#1c1c1c" stroke-width="0.85" stroke-linejoin="round" >Тип 8</text>
<clipPath id="c8"><path d="M1079.2 1050.8 C1077 1062 1076 1078 1080 1090 C1084 1098 1092 1101 1107.5 1102.5 C1113 1104 1118 1106 1122.5 1108.8 L1271.2 1108.8 L1287.5 1100.8 L1287.5 1090.8 L1276.2 1072.5 L1268.8 1050.8 Z"/></clipPath>
<path d="M1013.9 1108.8L1067.42 1050.8M1030.6 1108.8L1084.12 1050.8M1047.3 1108.8L1100.82 1050.8M1064 1108.8L1117.52 1050.8M1080.7 1108.8L1134.22 1050.8M1097.4 1108.8L1150.92 1050.8M1114.1 1108.8L1167.62 1050.8M1130.8 1108.8L1184.32 1050.8M1147.5 1108.8L1201.02 1050.8M1164.2 1108.8L1217.72 1050.8M1180.9 1108.8L1234.42 1050.8M1197.6 1108.8L1251.12 1050.8M1214.3 1108.8L1267.82 1050.8M1231 1108.8L1284.52 1050.8M1247.7 1108.8L1301.22 1050.8M1264.4 1108.8L1317.92 1050.8M1281.1 1108.8L1334.62 1050.8M1297.8 1108.8L1351.32 1050.8" fill="none" stroke="#4c4c4c" stroke-width="0.9" clip-path="url(#c8)"/>
<path d="M1079.2 1050.8 C1077 1062 1076 1078 1080 1090 C1084 1098 1092 1101 1107.5 1102.5 C1113 1104 1118 1106 1122.5 1108.8" fill="none" stroke="#4c4c4c" stroke-width="1"/>
<path d="M1122.5 1108.8 C1126.25 1111.08 1137.08 1118.13 1145 1122.5 C1152.92 1126.87 1161.67 1131.05 1170 1135 C1178.33 1138.95 1186.67 1142.67 1195 1146.2 C1203.33 1149.73 1211.67 1153.27 1220 1156.2 C1228.33 1159.13 1238.33 1162.13 1245 1163.8 C1251.67 1165.47 1255.63 1165.92 1260 1166.2 C1264.37 1166.48 1266.62 1166.12 1271.2 1165.5 C1275.78 1164.88 1284.78 1163 1287.5 1162.5" fill="none" stroke="#4c4c4c" stroke-width="1"/>
<line x1="1287.5" y1="954.2" x2="1287.5" y2="1091" stroke="#4c4c4c" stroke-width="1" stroke-linecap="butt"/>
<line x1="1287.5" y1="1090.8" x2="1211.2" y2="979.2" stroke="#4c4c4c" stroke-width="1" stroke-linecap="butt"/>
<line x1="1276.2" y1="1072.5" x2="1254.2" y2="995" stroke="#4c4c4c" stroke-width="1" stroke-linecap="butt"/>
<line x1="1038.8" y1="1051.5" x2="1079" y2="1051.5" stroke="#4c4c4c" stroke-width="1" stroke-linecap="butt"/>
<line x1="1038.8" y1="1109.5" x2="1122.5" y2="1109.5" stroke="#4c4c4c" stroke-width="1" stroke-linecap="butt"/>
<line x1="1270" y1="1051.5" x2="1436" y2="1051.5" stroke="#4c4c4c" stroke-width="1" stroke-linecap="butt"/>
<line x1="1278.5" y1="1072.5" x2="1362.5" y2="1072.5" stroke="#4c4c4c" stroke-width="1" stroke-linecap="butt"/>
<line x1="1287.7" y1="1090.5" x2="1326.5" y2="1090.5" stroke="#4c4c4c" stroke-width="1" stroke-linecap="butt"/>
<line x1="1287.7" y1="1100.5" x2="1395.3" y2="1100.5" stroke="#4c4c4c" stroke-width="1" stroke-linecap="butt"/>
<line x1="1271.2" y1="1108.8" x2="1070" y2="1226.2" stroke="#4c4c4c" stroke-width="1" stroke-linecap="butt"/>
<path d="M1079.2 1050.8 L1268.8 1050.8 L1276.2 1072.5 L1287.5 1090.8 L1287.5 1163.8" fill="none" stroke="#1c1c1c" stroke-width="2.8" stroke-linejoin="miter"/>
<path d="M1122.5 1108.8 L1271.2 1108.8 L1287.5 1100.8" fill="none" stroke="#1c1c1c" stroke-width="2.8" stroke-linejoin="miter"/>
<line x1="1271.2" y1="1108.8" x2="1271.2" y2="1165.8" stroke="#1c1c1c" stroke-width="2.8" stroke-linecap="butt"/>
<line x1="1046.5" y1="1051.4" x2="1046.5" y2="1109.3" stroke="#4c4c4c" stroke-width="1" stroke-linecap="butt"/>
<polygon points="1046.2,1051.4 1048.8,1068.4 1043.6,1068.4" fill="#1c1c1c"/>
<polygon points="1046.2,1109.3 1043.6,1092.3 1048.8,1092.3" fill="#1c1c1c"/>
<path d="M1046.2 1108.8 A225 225 0 0 0 1076.34 1221.3" fill="none" stroke="#4c4c4c" stroke-width="1"/>
<polygon points="1046.2,1108.8 1049.44,1125.69 1044.24,1125.89" fill="#1c1c1c"/>
<polygon points="1076.34,1221.3 1066.11,1207.48 1070.71,1205.05" fill="#1c1c1c"/>
<line x1="1318.5" y1="1062.5" x2="1318.5" y2="1161.8" stroke="#4c4c4c" stroke-width="1" stroke-linecap="butt"/>
<polygon points="1318.5,1090.5 1315.9,1073.5 1321.1,1073.5" fill="#1c1c1c"/>
<polygon points="1318.5,1100 1321.1,1117 1315.9,1117" fill="#1c1c1c"/>
<line x1="1358.5" y1="1045.7" x2="1358.5" y2="1126.5" stroke="#4c4c4c" stroke-width="1" stroke-linecap="butt"/>
<polygon points="1358.5,1072.9 1355.9,1055.9 1361.1,1055.9" fill="#1c1c1c"/>
<polygon points="1358.5,1100 1361.1,1117 1355.9,1117" fill="#1c1c1c"/>
<line x1="1393.5" y1="1051.3" x2="1393.5" y2="1100" stroke="#4c4c4c" stroke-width="1" stroke-linecap="butt"/>
<polygon points="1393,1051.3 1395.6,1068.3 1390.4,1068.3" fill="#1c1c1c"/>
<polygon points="1393,1100 1390.4,1083 1395.6,1083" fill="#1c1c1c"/>
<line x1="1429.5" y1="1051.3" x2="1429.5" y2="1162.6" stroke="#4c4c4c" stroke-width="1" stroke-linecap="butt"/>
<polygon points="1429,1051.3 1431.6,1068.3 1426.4,1068.3" fill="#1c1c1c"/>
<path d="M1287.5 962 A128.8 128.8 0 0 0 1213.62 985.29" fill="none" stroke="#4c4c4c" stroke-width="1"/>
<polygon points="1287.5,962 1270.71,965.72 1270.37,960.53" fill="#1c1c1c"/>
<polygon points="1213.62,985.29 1226.81,974.26 1229.51,978.71" fill="#1c1c1c"/>
<path d="M1231.75 1011.12 A115 115 0 0 1 1315.32 1000.12" fill="none" stroke="#4c4c4c" stroke-width="1"/>
<polygon points="1255.8,1001.15 1240.72,1009.41 1238.94,1004.53" fill="#1c1c1c"/>
<polygon points="1287.5,996.7 1304.64,995.29 1304.28,1000.48" fill="#1c1c1c"/>
<line x1="1317.7" y1="961.5" x2="1392" y2="961.5" stroke="#4c4c4c" stroke-width="1" stroke-linecap="butt"/>
<line x1="1317.7" y1="961.3" x2="1273.6" y2="997.7" stroke="#4c4c4c" stroke-width="1" stroke-linecap="butt"/>
<line x1="1300.9" y1="1036.5" x2="1380" y2="1036.5" stroke="#4c4c4c" stroke-width="1" stroke-linecap="butt"/>
<line x1="1300.9" y1="1036" x2="1276.8" y2="1069.7" stroke="#4c4c4c" stroke-width="1" stroke-linecap="butt"/>
<polygon points="1276.8,1069.7 1284.57,1054.36 1288.8,1057.38" fill="#1c1c1c"/>
<line x1="933.8" y1="1155.5" x2="1028.8" y2="1155.5" stroke="#4c4c4c" stroke-width="1" stroke-linecap="butt"/>
<line x1="1028.8" y1="1155" x2="1052.5" y2="1167.5" stroke="#4c4c4c" stroke-width="1" stroke-linecap="butt"/>
<text x="1223.2" y="950" font-size="22.5" text-anchor="start" fill="#1c1c1c" stroke="#1c1c1c" stroke-width="1.05" stroke-linejoin="round" >35</text>
<text x="1247.72" y="941.9" font-size="13.95" text-anchor="start" fill="#1c1c1c" stroke="#1c1c1c" stroke-width="1.05" stroke-linejoin="round" >o</text>
<text x="1246.72" y="959" font-size="15.5" text-anchor="start" fill="#1c1c1c" stroke="#1c1c1c" stroke-width="1.05" stroke-linejoin="round" >-5</text>
<text x="1332" y="946.4" font-size="22.5" text-anchor="start" fill="#1c1c1c" stroke="#1c1c1c" stroke-width="1.05" stroke-linejoin="round" >16</text>
<text x="1356.52" y="938.3" font-size="13.95" text-anchor="start" fill="#1c1c1c" stroke="#1c1c1c" stroke-width="1.05" stroke-linejoin="round" >o</text>
<text x="1355.52" y="955.4" font-size="15.5" text-anchor="start" fill="#1c1c1c" stroke="#1c1c1c" stroke-width="1.05" stroke-linejoin="round" >-5</text>
<text x="1305.7" y="1027.6" font-size="21.5" text-anchor="start" fill="#1c1c1c" stroke="#1c1c1c" stroke-width="1.05" stroke-linejoin="round" ><tspan font-style="italic">R</tspan>3 min</text>
<text x="935" y="1148.2" font-size="22" text-anchor="start" fill="#1c1c1c" stroke="#1c1c1c" stroke-width="1.05" stroke-linejoin="round" >30º max</text>
<text x="936.2" y="1176.2" font-size="22" text-anchor="start" fill="#1c1c1c" stroke="#1c1c1c" stroke-width="1.05" stroke-linejoin="round" >14º min</text>
<text x="1036.2" y="1088.5" font-size="21.5" text-anchor="start" fill="#1c1c1c" stroke="#1c1c1c" stroke-width="1.05" stroke-linejoin="round" transform="rotate(-90 1036.2 1088.5)" ><tspan font-style="italic">S</tspan></text>
<text x="1346.5" y="1093.5" font-size="21.5" text-anchor="start" fill="#1c1c1c" stroke="#1c1c1c" stroke-width="1.05" stroke-linejoin="round" transform="rotate(-90 1346.5 1093.5)" ><tspan font-style="italic">B</tspan></text>
<text x="1380" y="1079.5" font-size="20.5" text-anchor="start" fill="#1c1c1c" stroke="#1c1c1c" stroke-width="1.05" stroke-linejoin="round" transform="rotate(-90 1380 1079.5)" ><tspan font-style="italic">a</tspan></text>
<text x="1309.7" y="1151.5" font-size="20.5" text-anchor="start" fill="#1c1c1c" stroke="#1c1c1c" stroke-width="1.05" stroke-linejoin="round" transform="rotate(-90 1309.7 1151.5)" ><tspan font-style="italic">c</tspan></text>
<text x="1413.7" y="1164" font-size="22.5" text-anchor="start" fill="#1c1c1c" stroke="#1c1c1c" stroke-width="1.05" stroke-linejoin="round" transform="rotate(-90 1413.7 1164)" ><tspan font-style="italic">D</tspan>=<tspan font-style="italic">D</tspan><tspan font-size="15.97" dy="5.4">п</tspan><tspan dy="-5.4">​</tspan>=<tspan font-style="italic">D</tspan><tspan font-size="15.97" dy="5.4">тр</tspan><tspan dy="-5.4">​</tspan></text>
<text x="493.8" y="1254.3" font-size="23.8" text-anchor="middle" fill="#1c1c1c" stroke="#1c1c1c" stroke-width="0.85" stroke-linejoin="round" >Тип 9</text>
<clipPath id="c9"><path d="M411.2 1377.5 C394 1386 392 1410 408.8 1422.5 L516.2 1422.5 L532.8 1413.5 L590.5 1413.5 L602 1407 L602 1396.2 L590.3 1377.5 Z"/></clipPath>
<path d="M333.7 1422.5L375.66 1377.5M350.2 1422.5L392.16 1377.5M366.7 1422.5L408.66 1377.5M383.2 1422.5L425.16 1377.5M399.7 1422.5L441.66 1377.5M416.2 1422.5L458.16 1377.5M432.7 1422.5L474.66 1377.5M449.2 1422.5L491.16 1377.5M465.7 1422.5L507.66 1377.5M482.2 1422.5L524.16 1377.5M498.7 1422.5L540.66 1377.5M515.2 1422.5L557.16 1377.5M531.7 1422.5L573.66 1377.5M548.2 1422.5L590.16 1377.5M564.7 1422.5L606.66 1377.5M581.2 1422.5L623.16 1377.5M597.7 1422.5L639.66 1377.5M614.2 1422.5L656.16 1377.5" fill="none" stroke="#4c4c4c" stroke-width="0.9" clip-path="url(#c9)"/>
<path d="M411.2 1377.5 C408.75 1380.42 398.2 1389.25 396.5 1395 C394.8 1400.75 398.75 1407.42 401 1412 C403.25 1416.58 405.58 1418.67 410 1422.5 C414.42 1426.33 421.25 1431.88 427.5 1435 C433.75 1438.12 440 1439.7 447.5 1441.2 C455 1442.7 465 1442.7 472.5 1444 C480 1445.3 485.22 1446.5 492.5 1449 C499.78 1451.5 509.53 1455.5 516.2 1459 C522.87 1462.5 526.03 1466.08 532.5 1470 C538.97 1473.92 548.33 1479.37 555 1482.5 C561.67 1485.63 566.67 1487.63 572.5 1488.8 C578.33 1489.97 585.08 1489.88 590 1489.5 C594.92 1489.12 600 1487 602 1486.5" fill="none" stroke="#4c4c4c" stroke-width="1"/>
<line x1="602.5" y1="1305.5" x2="602.5" y2="1397" stroke="#4c4c4c" stroke-width="1" stroke-linecap="butt"/>
<line x1="590.3" y1="1377.5" x2="556.2" y2="1318.8" stroke="#4c4c4c" stroke-width="1" stroke-linecap="butt"/>
<line x1="363.2" y1="1378.5" x2="411" y2="1378.5" stroke="#4c4c4c" stroke-width="1" stroke-linecap="butt"/>
<line x1="331.8" y1="1422.5" x2="408.8" y2="1422.5" stroke="#4c4c4c" stroke-width="1" stroke-linecap="butt"/>
<line x1="593" y1="1378.5" x2="760.3" y2="1378.5" stroke="#4c4c4c" stroke-width="1" stroke-linecap="butt"/>
<line x1="602" y1="1397.5" x2="640.5" y2="1397.5" stroke="#4c4c4c" stroke-width="1" stroke-linecap="butt"/>
<line x1="602" y1="1406.5" x2="677.6" y2="1406.5" stroke="#4c4c4c" stroke-width="1" stroke-linecap="butt"/>
<line x1="593" y1="1413.5" x2="713" y2="1413.5" stroke="#4c4c4c" stroke-width="1" stroke-linecap="butt"/>
<line x1="532.8" y1="1413.5" x2="385" y2="1498.8" stroke="#4c4c4c" stroke-width="1" stroke-linecap="butt"/>
<line x1="590.5" y1="1413.5" x2="363.8" y2="1543.8" stroke="#4c4c4c" stroke-width="1" stroke-linecap="butt"/>
<line x1="533.5" y1="1468" x2="533.5" y2="1542" stroke="#4c4c4c" stroke-width="1" stroke-linecap="butt"/>
<line x1="590.5" y1="1488" x2="590.5" y2="1542" stroke="#4c4c4c" stroke-width="1" stroke-linecap="butt"/>
<path d="M411.2 1377.5 L590.3 1377.5 L602 1396.2 L602 1487.5" fill="none" stroke="#1c1c1c" stroke-width="2.8" stroke-linejoin="miter"/>
<path d="M408.8 1422.5 L516.2 1422.5 L532.8 1413.5 L590.5 1413.5 L602 1407" fill="none" stroke="#1c1c1c" stroke-width="2.8" stroke-linejoin="miter"/>
<line x1="516.3" y1="1422.5" x2="516.3" y2="1459" stroke="#1c1c1c" stroke-width="2.8" stroke-linecap="butt"/>
<line x1="532.9" y1="1413.5" x2="532.9" y2="1469.5" stroke="#1c1c1c" stroke-width="2.8" stroke-linecap="butt"/>
<line x1="590.5" y1="1413.5" x2="590.5" y2="1489" stroke="#1c1c1c" stroke-width="2.8" stroke-linecap="butt"/>
<line x1="370.5" y1="1323.8" x2="370.5" y2="1422.5" stroke="#4c4c4c" stroke-width="1" stroke-linecap="butt"/>
<polygon points="370.8,1378 373.4,1395 368.2,1395" fill="#1c1c1c"/>
<polygon points="370.8,1422.5 368.2,1405.5 373.4,1405.5" fill="#1c1c1c"/>
<path d="M370.7 1422.5 A145.5 145.5 0 0 0 390.19 1495.25" fill="none" stroke="#4c4c4c" stroke-width="1"/>
<polygon points="370.7,1422.5 374.29,1439.32 369.1,1439.62" fill="#1c1c1c"/>
<polygon points="390.19,1495.25 380.24,1481.22 384.89,1478.89" fill="#1c1c1c"/>
<path d="M339.3 1422.5 A235.5 235.5 0 0 0 370.85 1540.25" fill="none" stroke="#4c4c4c" stroke-width="1"/>
<polygon points="339.3,1422.5 342.51,1439.4 337.32,1439.58" fill="#1c1c1c"/>
<polygon points="370.85,1540.25 360.59,1526.45 365.18,1524.01" fill="#1c1c1c"/>
<line x1="635.5" y1="1371.2" x2="635.5" y2="1467" stroke="#4c4c4c" stroke-width="1" stroke-linecap="butt"/>
<polygon points="635,1397 632.4,1380 637.6,1380" fill="#1c1c1c"/>
<polygon points="635,1406.5 637.6,1423.5 632.4,1423.5" fill="#1c1c1c"/>
<line x1="670.5" y1="1352.2" x2="670.5" y2="1433.3" stroke="#4c4c4c" stroke-width="1" stroke-linecap="butt"/>
<polygon points="670.7,1378.1 668.1,1361.1 673.3,1361.1" fill="#1c1c1c"/>
<polygon points="670.7,1406.5 673.3,1423.5 668.1,1423.5" fill="#1c1c1c"/>
<line x1="705.5" y1="1352.2" x2="705.5" y2="1478" stroke="#4c4c4c" stroke-width="1" stroke-linecap="butt"/>
<polygon points="705.2,1378.1 702.6,1361.1 707.8,1361.1" fill="#1c1c1c"/>
<polygon points="705.2,1413 707.8,1430 702.6,1430" fill="#1c1c1c"/>
<line x1="752.5" y1="1378.1" x2="752.5" y2="1486.7" stroke="#4c4c4c" stroke-width="1" stroke-linecap="butt"/>
<polygon points="752.6,1378.1 755.2,1395.1 750,1395.1" fill="#1c1c1c"/>
<path d="M602 1312.5 A85.5 85.5 0 0 0 559.25 1323.95" fill="none" stroke="#4c4c4c" stroke-width="1"/>
<polygon points="602,1312.5 585.34,1316.77 584.83,1311.6" fill="#1c1c1c"/>
<polygon points="559.25,1323.95 573.67,1314.59 575.81,1319.33" fill="#1c1c1c"/>
<line x1="223.8" y1="1387.5" x2="317.5" y2="1387.5" stroke="#4c4c4c" stroke-width="1" stroke-linecap="butt"/>
<line x1="317.5" y1="1387.5" x2="373.8" y2="1457.5" stroke="#4c4c4c" stroke-width="1" stroke-linecap="butt"/>
<line x1="223.8" y1="1468.5" x2="317.5" y2="1468.5" stroke="#4c4c4c" stroke-width="1" stroke-linecap="butt"/>
<line x1="317.5" y1="1468.8" x2="346.2" y2="1483.8" stroke="#4c4c4c" stroke-width="1" stroke-linecap="butt"/>
<line x1="451.2" y1="1534.5" x2="590.5" y2="1534.5" stroke="#4c4c4c" stroke-width="1" stroke-linecap="butt"/>
<polygon points="533,1534.8 550,1532.2 550,1537.4" fill="#1c1c1c"/>
<polygon points="590.5,1534.8 573.5,1537.4 573.5,1532.2" fill="#1c1c1c"/>
<line x1="535.3" y1="1415.2" x2="617.2" y2="1512.6" stroke="#4c4c4c" stroke-width="1" stroke-linecap="butt"/>
<line x1="617.2" y1="1512.5" x2="695.7" y2="1512.5" stroke="#4c4c4c" stroke-width="1" stroke-linecap="butt"/>
<polygon points="535.3,1415.2 548.23,1426.54 544.25,1429.88" fill="#1c1c1c"/>
<text x="558.2" y="1295.5" font-size="22.5" text-anchor="start" fill="#1c1c1c" stroke="#1c1c1c" stroke-width="1.05" stroke-linejoin="round" >30</text>
<text x="582.72" y="1287.4" font-size="13.95" text-anchor="start" fill="#1c1c1c" stroke="#1c1c1c" stroke-width="1.05" stroke-linejoin="round" >o</text>
<text x="581.72" y="1304.5" font-size="15.5" text-anchor="start" fill="#1c1c1c" stroke="#1c1c1c" stroke-width="1.05" stroke-linejoin="round" >-5</text>
<text x="223.8" y="1377" font-size="22" text-anchor="start" fill="#1c1c1c" stroke="#1c1c1c" stroke-width="1.05" stroke-linejoin="round" >30º max</text>
<text x="228.8" y="1410.5" font-size="22" text-anchor="start" fill="#1c1c1c" stroke="#1c1c1c" stroke-width="1.05" stroke-linejoin="round" >20º min</text>
<text x="223.8" y="1460.5" font-size="22" text-anchor="start" fill="#1c1c1c" stroke="#1c1c1c" stroke-width="1.05" stroke-linejoin="round" >30º max</text>
<text x="228.8" y="1490.5" font-size="22" text-anchor="start" fill="#1c1c1c" stroke="#1c1c1c" stroke-width="1.05" stroke-linejoin="round" >20º min</text>
<text x="458.2" y="1526.2" font-size="21.5" text-anchor="start" fill="#1c1c1c" stroke="#1c1c1c" stroke-width="1.05" stroke-linejoin="round" >30 min</text>
<text x="622.4" y="1506.2" font-size="21.5" text-anchor="start" fill="#1c1c1c" stroke="#1c1c1c" stroke-width="1.05" stroke-linejoin="round" ><tspan font-style="italic">R</tspan>3 min</text>
<text x="363.8" y="1350" font-size="21.5" text-anchor="start" fill="#1c1c1c" stroke="#1c1c1c" stroke-width="1.05" stroke-linejoin="round" transform="rotate(-90 363.8 1350)" ><tspan font-style="italic">S</tspan></text>
<text x="662" y="1398" font-size="20.5" text-anchor="start" fill="#1c1c1c" stroke="#1c1c1c" stroke-width="1.05" stroke-linejoin="round" transform="rotate(-90 662 1398)" ><tspan font-style="italic">a</tspan></text>
<text x="628.4" y="1457" font-size="20.5" text-anchor="start" fill="#1c1c1c" stroke="#1c1c1c" stroke-width="1.05" stroke-linejoin="round" transform="rotate(-90 628.4 1457)" ><tspan font-style="italic">c</tspan></text>
<text x="695.7" y="1467.8" font-size="21.5" text-anchor="start" fill="#1c1c1c" stroke="#1c1c1c" stroke-width="1.05" stroke-linejoin="round" transform="rotate(-90 695.7 1467.8)" ><tspan font-style="italic">S</tspan><tspan font-size="15.5" dy="6.5">п</tspan><tspan dy="-6.5">​</tspan></text>
<text x="738.8" y="1486" font-size="22.5" text-anchor="start" fill="#1c1c1c" stroke="#1c1c1c" stroke-width="1.05" stroke-linejoin="round" transform="rotate(-90 738.8 1486)" ><tspan font-style="italic">D</tspan>=<tspan font-style="italic">D</tspan><tspan font-size="15.97" dy="5.4">п</tspan><tspan dy="-5.4">​</tspan>=<tspan font-style="italic">D</tspan><tspan font-size="15.97" dy="5.4">тр</tspan><tspan dy="-5.4">​</tspan></text>
<text x="1183.8" y="1254.3" font-size="23.8" text-anchor="middle" fill="#1c1c1c" stroke="#1c1c1c" stroke-width="0.85" stroke-linejoin="round" >Тип 10</text>
<clipPath id="c10"><path d="M1069.2 1375.5 C1067 1388 1066 1402 1071.2 1412.5 C1078 1419 1090 1420 1100 1422.5 C1107 1425 1112 1429 1117.5 1433.2 L1167.5 1433.2 L1180 1425.5 L1230 1425.5 L1243.2 1417.5 L1243.2 1408.8 L1233.8 1393.8 L1228 1375.5 Z"/></clipPath>
<path d="M1008.3 1433.2L1062.48 1375.5M1024.8 1433.2L1078.98 1375.5M1041.3 1433.2L1095.48 1375.5M1057.8 1433.2L1111.98 1375.5M1074.3 1433.2L1128.48 1375.5M1090.8 1433.2L1144.98 1375.5M1107.3 1433.2L1161.48 1375.5M1123.8 1433.2L1177.98 1375.5M1140.3 1433.2L1194.48 1375.5M1156.8 1433.2L1210.98 1375.5M1173.3 1433.2L1227.48 1375.5M1189.8 1433.2L1243.98 1375.5M1206.3 1433.2L1260.48 1375.5M1222.8 1433.2L1276.98 1375.5M1239.3 1433.2L1293.48 1375.5M1255.8 1433.2L1309.98 1375.5" fill="none" stroke="#4c4c4c" stroke-width="0.9" clip-path="url(#c10)"/>
<path d="M1069.2 1375.5 C1067 1388 1066 1402 1071.2 1412.5 C1078 1419 1090 1420 1100 1422.5 C1107 1425 1112 1429 1117.5 1433.2" fill="none" stroke="#4c4c4c" stroke-width="1"/>
<path d="M1117.5 1433.2 C1122.08 1435.58 1136.67 1443.67 1145 1447.5 C1153.33 1451.33 1161.67 1453.92 1167.5 1456.2 C1173.33 1458.48 1173.75 1459.23 1180 1461.2 C1186.25 1463.17 1196.67 1466.2 1205 1468 C1213.33 1469.8 1223.63 1471.67 1230 1472 C1236.37 1472.33 1241 1470.33 1243.2 1470" fill="none" stroke="#4c4c4c" stroke-width="1"/>
<line x1="1243.5" y1="1294.5" x2="1243.5" y2="1409" stroke="#4c4c4c" stroke-width="1" stroke-linecap="butt"/>
<line x1="1243.2" y1="1408.8" x2="1177.5" y2="1316.2" stroke="#4c4c4c" stroke-width="1" stroke-linecap="butt"/>
<line x1="1233.8" y1="1393.8" x2="1215" y2="1329.2" stroke="#4c4c4c" stroke-width="1" stroke-linecap="butt"/>
<line x1="1045" y1="1376.5" x2="1069" y2="1376.5" stroke="#4c4c4c" stroke-width="1" stroke-linecap="butt"/>
<line x1="1045" y1="1433.5" x2="1117.5" y2="1433.5" stroke="#4c4c4c" stroke-width="1" stroke-linecap="butt"/>
<line x1="1228" y1="1376.5" x2="1423" y2="1376.5" stroke="#4c4c4c" stroke-width="1" stroke-linecap="butt"/>
<line x1="1236" y1="1394.5" x2="1312.6" y2="1394.5" stroke="#4c4c4c" stroke-width="1" stroke-linecap="butt"/>
<line x1="1243.3" y1="1409.5" x2="1277.2" y2="1409.5" stroke="#4c4c4c" stroke-width="1" stroke-linecap="butt"/>
<line x1="1243.3" y1="1417.5" x2="1345.3" y2="1417.5" stroke="#4c4c4c" stroke-width="1" stroke-linecap="butt"/>
<line x1="1229" y1="1425.5" x2="1380.7" y2="1425.5" stroke="#4c4c4c" stroke-width="1" stroke-linecap="butt"/>
<line x1="1180" y1="1425.5" x2="1088" y2="1478.8" stroke="#4c4c4c" stroke-width="1" stroke-linecap="butt"/>
<line x1="1230" y1="1425.5" x2="1068.8" y2="1517.5" stroke="#4c4c4c" stroke-width="1" stroke-linecap="butt"/>
<line x1="1180.5" y1="1460" x2="1180.5" y2="1498.8" stroke="#4c4c4c" stroke-width="1" stroke-linecap="butt"/>
<line x1="1229.5" y1="1471" x2="1229.5" y2="1498.8" stroke="#4c4c4c" stroke-width="1" stroke-linecap="butt"/>
<path d="M1069.2 1375.5 L1228 1375.5 L1233.8 1393.8 L1243.2 1408.8 L1243.2 1470" fill="none" stroke="#1c1c1c" stroke-width="2.8" stroke-linejoin="miter"/>
<path d="M1117.5 1433.2 L1167.5 1433.2 L1180 1425.5 L1230 1425.5 L1243.2 1417.5" fill="none" stroke="#1c1c1c" stroke-width="2.8" stroke-linejoin="miter"/>
<line x1="1167.5" y1="1433.2" x2="1167.5" y2="1455" stroke="#1c1c1c" stroke-width="2.8" stroke-linecap="butt"/>
<line x1="1180" y1="1425.5" x2="1180" y2="1460" stroke="#1c1c1c" stroke-width="2.8" stroke-linecap="butt"/>
<line x1="1230" y1="1425.5" x2="1230" y2="1471.5" stroke="#1c1c1c" stroke-width="2.8" stroke-linecap="butt"/>
<line x1="1052.5" y1="1376.2" x2="1052.5" y2="1433.2" stroke="#4c4c4c" stroke-width="1" stroke-linecap="butt"/>
<polygon points="1052,1376.2 1054.6,1393.2 1049.4,1393.2" fill="#1c1c1c"/>
<polygon points="1052,1433.2 1049.4,1416.2 1054.6,1416.2" fill="#1c1c1c"/>
<path d="M1052 1433.2 A164.6 164.6 0 0 0 1074.05 1515.5" fill="none" stroke="#4c4c4c" stroke-width="1"/>
<polygon points="1052,1433.2 1055.47,1450.04 1050.28,1450.31" fill="#1c1c1c"/>
<polygon points="1074.05,1515.5 1064.01,1501.54 1068.64,1499.18" fill="#1c1c1c"/>
<path d="M1082.5 1433.2 A85 85 0 0 0 1093.89 1475.7" fill="none" stroke="#4c4c4c" stroke-width="1"/>
<polygon points="1082.5,1433.2 1086.78,1449.86 1081.61,1450.37" fill="#1c1c1c"/>
<polygon points="1093.89,1475.7 1084.53,1461.27 1089.27,1459.13" fill="#1c1c1c"/>
<line x1="1270.5" y1="1386.7" x2="1270.5" y2="1461" stroke="#4c4c4c" stroke-width="1" stroke-linecap="butt"/>
<polygon points="1270.3,1409.7 1267.7,1392.7 1272.9,1392.7" fill="#1c1c1c"/>
<polygon points="1270.3,1417 1272.9,1434 1267.7,1434" fill="#1c1c1c"/>
<line x1="1306.5" y1="1373" x2="1306.5" y2="1439.3" stroke="#4c4c4c" stroke-width="1" stroke-linecap="butt"/>
<polygon points="1306.5,1394.5 1303.9,1377.5 1309.1,1377.5" fill="#1c1c1c"/>
<polygon points="1306.5,1425.5 1309.1,1442.5 1303.9,1442.5" fill="#1c1c1c"/>
<line x1="1340.5" y1="1376.7" x2="1340.5" y2="1417" stroke="#4c4c4c" stroke-width="1" stroke-linecap="butt"/>
<polygon points="1340.2,1376.7 1342.8,1393.7 1337.6,1393.7" fill="#1c1c1c"/>
<polygon points="1340.2,1417 1337.6,1400 1342.8,1400" fill="#1c1c1c"/>
<line x1="1374.5" y1="1376.7" x2="1374.5" y2="1425.5" stroke="#4c4c4c" stroke-width="1" stroke-linecap="butt"/>
<polygon points="1374.7,1376.7 1377.3,1393.7 1372.1,1393.7" fill="#1c1c1c"/>
<polygon points="1374.7,1425.5 1372.1,1408.5 1377.3,1408.5" fill="#1c1c1c"/>
<line x1="1414.5" y1="1376.7" x2="1414.5" y2="1468.6" stroke="#4c4c4c" stroke-width="1" stroke-linecap="butt"/>
<polygon points="1414.8,1376.7 1417.4,1393.7 1412.2,1393.7" fill="#1c1c1c"/>
<path d="M1243.2 1301.3 A107.5 107.5 0 0 0 1181.54 1320.74" fill="none" stroke="#4c4c4c" stroke-width="1"/>
<polygon points="1243.2,1301.3 1226.46,1305.23 1226.05,1300.05" fill="#1c1c1c"/>
<polygon points="1181.54,1320.74 1194.87,1309.88 1197.51,1314.36" fill="#1c1c1c"/>
<path d="M1198.6 1343.02 A95 95 0 0 1 1262.95 1333.98" fill="none" stroke="#4c4c4c" stroke-width="1"/>
<polygon points="1217.01,1335.58 1201.93,1343.84 1200.15,1338.95" fill="#1c1c1c"/>
<polygon points="1243.2,1331.9 1260.34,1330.49 1259.98,1335.68" fill="#1c1c1c"/>
<line x1="1260.9" y1="1310.5" x2="1323" y2="1310.5" stroke="#4c4c4c" stroke-width="1" stroke-linecap="butt"/>
<line x1="1260.9" y1="1310" x2="1230.7" y2="1331.6" stroke="#4c4c4c" stroke-width="1" stroke-linecap="butt"/>
<line x1="1267" y1="1358.5" x2="1333.3" y2="1358.5" stroke="#4c4c4c" stroke-width="1" stroke-linecap="butt"/>
<line x1="1267" y1="1358.6" x2="1234.1" y2="1393.6" stroke="#4c4c4c" stroke-width="1" stroke-linecap="butt"/>
<polygon points="1234.1,1393.6 1243.85,1379.43 1247.64,1382.99" fill="#1c1c1c"/>
<line x1="1253" y1="1494.5" x2="1317.8" y2="1494.5" stroke="#4c4c4c" stroke-width="1" stroke-linecap="butt"/>
<line x1="1253" y1="1494" x2="1182.4" y2="1428" stroke="#4c4c4c" stroke-width="1" stroke-linecap="butt"/>
<polygon points="1182.4,1428 1196.59,1437.71 1193.04,1441.51" fill="#1c1c1c"/>
<line x1="1180.2" y1="1494.5" x2="1229.8" y2="1494.5" stroke="#4c4c4c" stroke-width="1" stroke-linecap="butt"/>
<polygon points="1180.2,1494 1197.2,1491.4 1197.2,1496.6" fill="#1c1c1c"/>
<polygon points="1229.8,1494 1212.8,1496.6 1212.8,1491.4" fill="#1c1c1c"/>
<line x1="1205.7" y1="1494.5" x2="1227.2" y2="1528.4" stroke="#4c4c4c" stroke-width="1" stroke-linecap="butt"/>
<line x1="1227.2" y1="1528.5" x2="1294.5" y2="1528.5" stroke="#4c4c4c" stroke-width="1" stroke-linecap="butt"/>
<line x1="949.5" y1="1445.5" x2="1028.8" y2="1445.5" stroke="#4c4c4c" stroke-width="1" stroke-linecap="butt"/>
<line x1="1028.8" y1="1445" x2="1057.5" y2="1477.5" stroke="#4c4c4c" stroke-width="1" stroke-linecap="butt"/>
<line x1="955" y1="1518.5" x2="1035" y2="1518.5" stroke="#4c4c4c" stroke-width="1" stroke-linecap="butt"/>
<line x1="1035" y1="1518.8" x2="1083.8" y2="1456.2" stroke="#4c4c4c" stroke-width="1" stroke-linecap="butt"/>
<text x="1180.8" y="1292.5" font-size="22.5" text-anchor="start" fill="#1c1c1c" stroke="#1c1c1c" stroke-width="1.05" stroke-linejoin="round" >35</text>
<text x="1205.32" y="1284.4" font-size="13.95" text-anchor="start" fill="#1c1c1c" stroke="#1c1c1c" stroke-width="1.05" stroke-linejoin="round" >o</text>
<text x="1204.32" y="1301.5" font-size="15.5" text-anchor="start" fill="#1c1c1c" stroke="#1c1c1c" stroke-width="1.05" stroke-linejoin="round" >-5</text>
<text x="1272" y="1296.2" font-size="22.5" text-anchor="start" fill="#1c1c1c" stroke="#1c1c1c" stroke-width="1.05" stroke-linejoin="round" >16</text>
<text x="1296.52" y="1288.1" font-size="13.95" text-anchor="start" fill="#1c1c1c" stroke="#1c1c1c" stroke-width="1.05" stroke-linejoin="round" >o</text>
<text x="1295.52" y="1305.2" font-size="15.5" text-anchor="start" fill="#1c1c1c" stroke="#1c1c1c" stroke-width="1.05" stroke-linejoin="round" >-5</text>
<text x="1266" y="1349.7" font-size="21.5" text-anchor="start" fill="#1c1c1c" stroke="#1c1c1c" stroke-width="1.05" stroke-linejoin="round" ><tspan font-style="italic">R</tspan>3 min</text>
<text x="1253" y="1485.9" font-size="21.5" text-anchor="start" fill="#1c1c1c" stroke="#1c1c1c" stroke-width="1.05" stroke-linejoin="round" ><tspan font-style="italic">R</tspan>3 min</text>
<text x="1232.4" y="1522.6" font-size="21.5" text-anchor="start" fill="#1c1c1c" stroke="#1c1c1c" stroke-width="1.05" stroke-linejoin="round" >30 min</text>
<text x="945" y="1438" font-size="22" text-anchor="start" fill="#1c1c1c" stroke="#1c1c1c" stroke-width="1.05" stroke-linejoin="round" >30º max</text>
<text x="950.5" y="1463.8" font-size="22" text-anchor="start" fill="#1c1c1c" stroke="#1c1c1c" stroke-width="1.05" stroke-linejoin="round" >20º min</text>
<text x="945.8" y="1510" font-size="22" text-anchor="start" fill="#1c1c1c" stroke="#1c1c1c" stroke-width="1.05" stroke-linejoin="round" >30º max</text>
<text x="951.2" y="1540" font-size="22" text-anchor="start" fill="#1c1c1c" stroke="#1c1c1c" stroke-width="1.05" stroke-linejoin="round" >20º min</text>
<text x="1298" y="1413.5" font-size="21.5" text-anchor="start" fill="#1c1c1c" stroke="#1c1c1c" stroke-width="1.05" stroke-linejoin="round" transform="rotate(-90 1298 1413.5)" ><tspan font-style="italic">B</tspan></text>
<text x="1332.4" y="1402" font-size="20.5" text-anchor="start" fill="#1c1c1c" stroke="#1c1c1c" stroke-width="1.05" stroke-linejoin="round" transform="rotate(-90 1332.4 1402)" ><tspan font-style="italic">a</tspan></text>
<text x="1265" y="1453.5" font-size="20.5" text-anchor="start" fill="#1c1c1c" stroke="#1c1c1c" stroke-width="1.05" stroke-linejoin="round" transform="rotate(-90 1265 1453.5)" ><tspan font-style="italic">c</tspan></text>
<text x="1361.7" y="1409" font-size="21.5" text-anchor="start" fill="#1c1c1c" stroke="#1c1c1c" stroke-width="1.05" stroke-linejoin="round" transform="rotate(-90 1361.7 1409)" ><tspan font-style="italic">S</tspan><tspan font-size="15.5" dy="6.5">п</tspan><tspan dy="-6.5">​</tspan></text>
<text x="1399.7" y="1480" font-size="22.5" text-anchor="start" fill="#1c1c1c" stroke="#1c1c1c" stroke-width="1.05" stroke-linejoin="round" transform="rotate(-90 1399.7 1480)" ><tspan font-style="italic">D</tspan>=<tspan font-style="italic">D</tspan><tspan font-size="15.97" dy="5.4">п</tspan><tspan dy="-5.4">​</tspan>=<tspan font-style="italic">D</tspan><tspan font-size="15.97" dy="5.4">тр</tspan><tspan dy="-5.4">​</tspan></text>
</svg>
</body></html>
